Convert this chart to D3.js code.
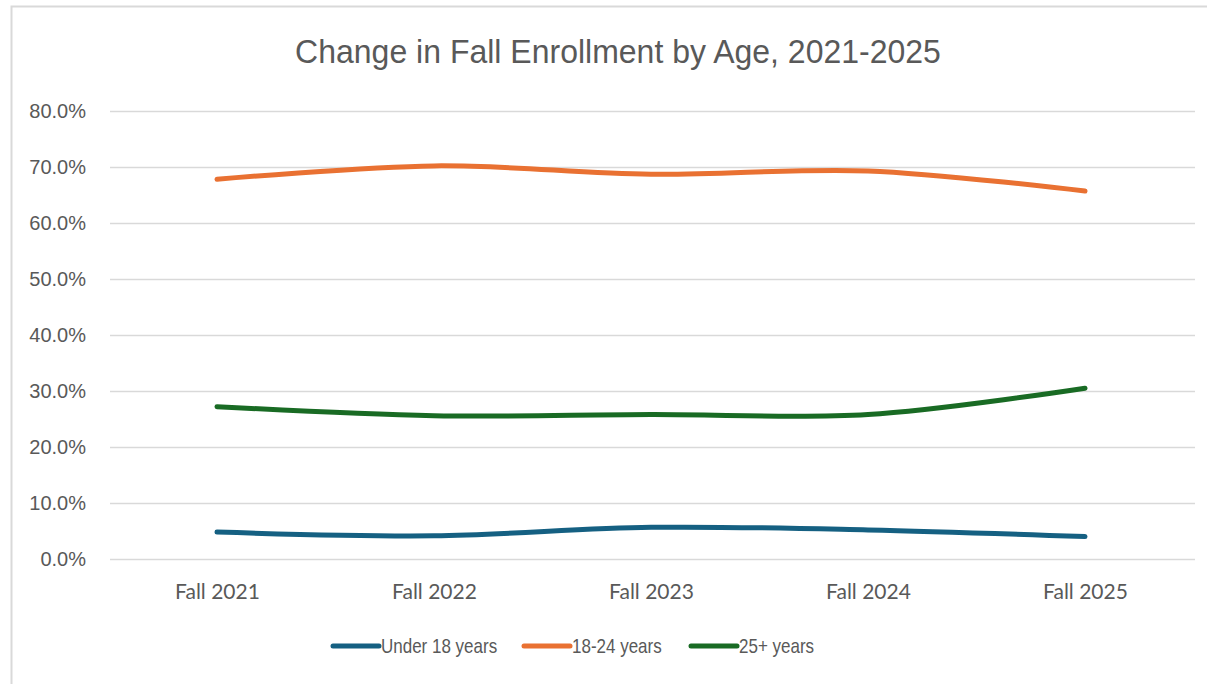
<!DOCTYPE html>
<html>
<head>
<meta charset="utf-8">
<script src="https://cdn.jsdelivr.net/npm/d3@7"></script>
<style>
  html, body { margin: 0; padding: 0; background: #fff; }
  svg { display: block; }
</style>
</head>
<body>
<svg id="chart" width="1207" height="684"></svg>
<script>
const title = "Change in Fall Enrollment by Age, 2021-2025";
const categories = ["Fall 2021", "Fall 2022", "Fall 2023", "Fall 2024", "Fall 2025"];
const seriesNames = ["Under 18 years", "18-24 years", "25+ years"];
const under18 = [4.8, 4.15, 5.65, 5.2, 4.0];
const age18to24 = [67.8, 70.2, 68.7, 69.3, 65.7];
const age25plus = [27.2, 25.6, 25.8, 25.8, 30.5];
const yTicks = [0, 10, 20, 30, 40, 50, 60, 70, 80];
const colors = ["#156082", "#E97132", "#196B24"];

const series = [under18, age18to24, age25plus].map((vals, i) => ({
  name: seriesNames[i], color: colors[i],
  values: vals.map((v, j) => ({ cat: categories[j], v }))
}));

const svg = d3.select("#chart");
const textColor = "#595959";

// chart frame
svg.append("rect").attr("x", 11.5).attr("y", 6.5).attr("width", 1300).attr("height", 800)
  .attr("fill", "#fff").attr("stroke", "#d9d9d9").attr("stroke-width", 2);

const x = d3.scalePoint().domain(categories).range([108.5, 1193.5]).padding(0.5);
const y = d3.scaleLinear().domain([0, 80]).range([559, 111]);

// title
svg.append("g").attr("transform", "translate(618,63) scale(0.97,1)")
  .append("text").attr("x", 0).attr("y", 0).attr("text-anchor", "middle")
  .attr("fill", textColor).style("font-family", "'Liberation Sans', Arial, sans-serif")
  .style("font-size", "33px").text(title);

// gridlines + y axis
const yAxis = d3.axisLeft(y).tickValues(yTicks).tickSize(-(1195 - 110))
  .tickPadding(24).tickFormat(d => d3.format(".1f")(d) + "%");
const ya = svg.append("g").attr("transform", "translate(110,0)").call(yAxis);
ya.select(".domain").remove();
ya.selectAll(".tick line").attr("stroke", "#d9d9d9").attr("stroke-width", 1.5);
ya.selectAll(".tick text").attr("fill", textColor)
  .style("font-family", "'Liberation Sans', Arial, sans-serif").style("font-size", "20px");

// x axis labels
const xAxis = d3.axisBottom(x).tickSize(0).tickPadding(0);
const xa = svg.append("g").attr("transform", "translate(0,559)").call(xAxis);
xa.select(".domain").remove();
xa.selectAll(".tick text").attr("fill", textColor).attr("dy", 0).attr("y", 40)
  .style("font-family", "Lato, 'Open Sans', sans-serif").style("font-size", "21px");

// lines
const line = d3.line().x(d => x(d.cat)).y(d => y(d.v)).curve(d3.curveCatmullRom.alpha(0.5));
svg.append("g").selectAll("path").data(series).join("path")
  .attr("d", d => line(d.values)).attr("fill", "none")
  .attr("stroke", d => d.color).attr("stroke-width", 5)
  .attr("stroke-linecap", "round").attr("stroke-linejoin", "round");

// legend
const legendX = [333, 524, 691];
const lg = svg.append("g").selectAll("g").data(series).join("g")
  .attr("transform", (d, i) => `translate(${legendX[i]},646)`);
lg.append("line").attr("x1", 0).attr("x2", 46).attr("y1", 0).attr("y2", 0)
  .attr("stroke", d => d.color).attr("stroke-width", 5).attr("stroke-linecap", "round");
lg.append("g").attr("transform", "translate(48,7) scale(0.85,1)")
  .append("text").attr("x", 0).attr("y", 0).attr("fill", textColor)
  .style("font-family", "'Liberation Sans', Arial, sans-serif")
  .style("font-size", "20px").text(d => d.name);
</script>
</body>
</html>
